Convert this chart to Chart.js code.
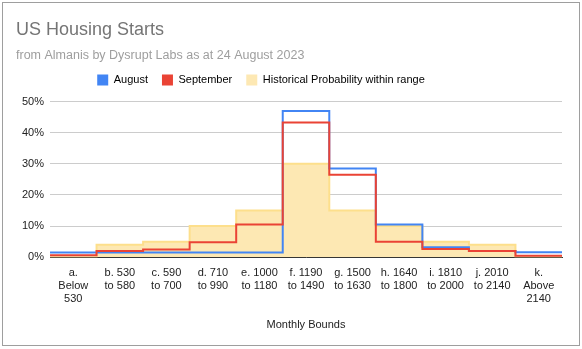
<!DOCTYPE html>
<html><head><meta charset="utf-8">
<script src="https://cdn.jsdelivr.net/npm/chart.js@4"></script>
<style>
html,body{margin:0;padding:0;background:#fff;}
#wrap{position:absolute;left:2px;top:2px;width:576px;height:342px;border:1px solid #9e9e9e;}
canvas{display:block;}
</style></head>
<body>
<div id="wrap"><canvas id="c" width="576" height="342"></canvas></div>
<script>
const categories = [
  ["a.","Below","530"],["b. 530","to 580"],["c. 590","to 700"],["d. 710","to 990"],
  ["e. 1000","to 1180"],["f. 1190","to 1490"],["g. 1500","to 1630"],["h. 1640","to 1800"],
  ["i. 1810","to 2000"],["j. 2010","to 2140"],["k.","Above","2140"]
];
const august     = [1.5, 1.5, 1.5, 1.5, 1.5, 47, 28.5, 10.5, 3.2, 2, 1.6];
const september  = [0.6, 2, 2.5, 4.8, 10.5, 43.3, 26.5, 5, 2.6, 2, 0.5];
const historical = [0, 4, 5, 10, 15, 30, 15, 10, 5, 4, 0];
const yTicks = [0, 10, 20, 30, 40, 50];

function steps(arr){
  const pts = arr.map((v,i)=>({x:i, y:v}));
  pts.push({x:arr.length, y:arr[arr.length-1]});
  return pts;
}
const FONT = "'Liberation Sans', Arial, sans-serif";
Chart.defaults.font.family = FONT;

const legendMargin = {id:'legendMargin',
  beforeInit(chart){
    const f = chart.legend.fit;
    chart.legend.fit = function(){ f.call(this); this.height += 2; };
  },
  afterLayout(chart){
    const L = chart.legend;
    L.left -= 28; L.right -= 28;
    L.top -= 4; L.bottom -= 4;
  }
};

new Chart(document.getElementById('c'), {
  type: 'line',
  data: {
    labels: categories,
    datasets: [
      {label:'August', data: steps(august), xAxisID:'xl', stepped:'before', borderColor:'#4285f4', backgroundColor:'#4285f4', borderWidth:2, pointRadius:0, fill:false, order:2},
      {label:'September', data: steps(september), xAxisID:'xl', stepped:'before', borderColor:'#ea4335', backgroundColor:'#ea4335', borderWidth:2, pointRadius:0, fill:false, order:1},
      {label:'Historical Probability within range', data: steps(historical), xAxisID:'xl', stepped:'before', borderColor:'#fddf8c', backgroundColor:'#fde8b3', borderWidth:2, pointRadius:0, fill:'origin', order:3}
    ]
  },
  options: {
    responsive:false, animation:false,
    layout:{padding:{left:13, right:17, top:0, bottom:13}},
    plugins:{
      title:{display:true, text:'US Housing Starts', align:'start', color:'#757575', font:{size:18, weight:'normal', family:FONT}, padding:{top:16, bottom:4}},
      subtitle:{display:true, text:'from Almanis by Dysrupt Labs as at 24 August 2023', align:'start', color:'#9e9e9e', font:{size:12.5, weight:'normal', family:FONT}, padding:{top:3, bottom:2}},
      legend:{display:true, position:'top', align:'center',
        labels:{boxWidth:11, boxHeight:11, color:'#222', font:{size:11, family:FONT}, padding:14,
          generateLabels:(chart)=>chart.data.datasets.map((d,i)=>({text:d.label, fillStyle:d.backgroundColor, strokeStyle:d.backgroundColor, lineWidth:0, datasetIndex:i, hidden:false}))}
      },
      tooltip:{enabled:false}
    },
    scales:{
      xl:{type:'linear', min:0, max:categories.length, display:false},
      x:{type:'category', labels:categories, offset:true, position:'bottom',
        grid:{display:false, drawTicks:false},
        border:{display:true, color:'#333', width:1},
        ticks:{color:'#222', font:{size:11, family:FONT, lineHeight:1.2}, maxRotation:0, autoSkip:false, padding:9},
        title:{display:true, text:'Monthly Bounds', color:'#222', font:{size:11, family:FONT}, padding:{top:4, bottom:0}}
      },
      y:{min:0, max:50, afterBuildTicks:(s)=>{s.ticks = yTicks.map(v=>({value:v}));},
        grid:{color:'#cccccc', drawTicks:false},
        border:{display:false},
        ticks:{color:'#222', font:{size:11, family:FONT}, padding:6, callback:(v)=>v+'%'}
      }
    }
  },
  plugins:[legendMargin]
});
</script>
</body></html>
